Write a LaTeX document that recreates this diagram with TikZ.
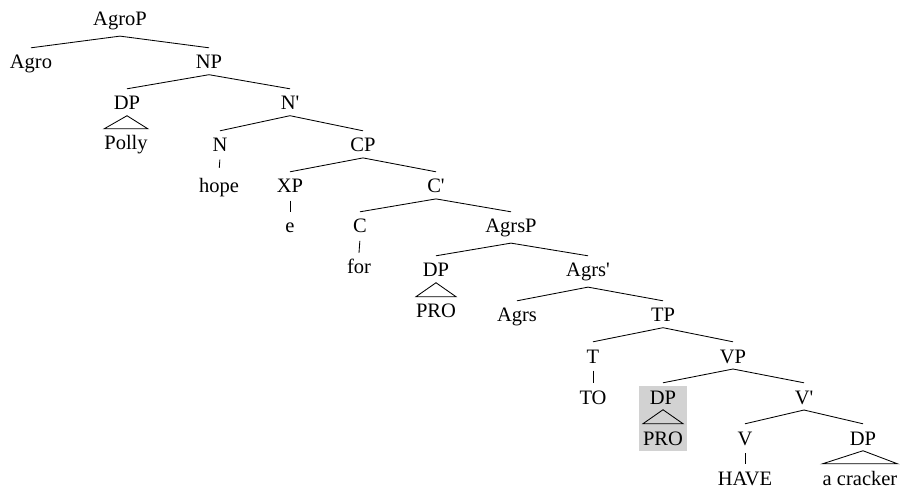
\documentclass[tikz,border=0pt]{standalone}
\usepackage{fontspec}
\setmainfont{Liberation Serif}
\usetikzlibrary{calc,backgrounds}
\newcommand{\pr}{\textquotesingle}
\begin{document}
\begin{tikzpicture}[x=1pt,y=-1pt,
  lbl/.style={anchor=base, font=\fontsize{20.5}{24}\selectfont, inner xsep=0pt, inner ysep=5.5pt, text height=15.5pt},
  edge/.style={draw=black, line width=0.85pt},
  unary/.style={edge, shorten <=2pt},
  tri/.style={draw=black, line width=0.85pt, line join=miter}]
\useasboundingbox (0,0) rectangle (903,489);
% nodes
\node[lbl] (agrop) at (120,26) {AgroP};
\node[lbl] (agro) at (31,69) {Agro};
\node[lbl] (np) at (209,69) {NP};
\node[lbl] (dp1) at (127,110) {DP};
\node[lbl] (nbar) at (290,110) {N\pr};
\node[lbl] (polly) at (126,150) {Polly};
\node[lbl] (n) at (220,152) {N};
\node[lbl] (cp) at (363,152) {CP};
\node[lbl] (hope) at (219,193) {hope};
\node[lbl] (xp) at (290,193) {XP};
\node[lbl] (cbar) at (436,193) {C\pr};
\node[lbl] (e) at (290,233) {e};
\node[lbl] (c) at (360,233) {C};
\node[lbl] (agrsp) at (511,233) {AgrsP};
\node[lbl] (forw) at (359,274) {for};
\node[lbl] (dp2) at (436,277) {DP};
\node[lbl] (agrsbar) at (588,277) {Agrs\pr};
\node[lbl] (pro2) at (436,318) {PRO};
\node[lbl] (agrs) at (517,322) {Agrs};
\node[lbl] (tp) at (663,322) {TP};
\node[lbl] (t) at (593,363) {T};
\node[lbl] (vp) at (733,363) {VP};
\node[lbl] (tow) at (593,404) {TO};
\node[lbl] (dp3) at (663,404) {DP};
\node[lbl] (vbar) at (804,404) {V\pr};
\node[lbl] (pro3) at (663,445) {PRO};
\node[lbl] (v) at (745,445) {V};
\node[lbl] (dp4) at (863,445) {DP};
\node[lbl] (have) at (745,485) {HAVE};
\node[lbl] (cracker) at (860,485) {a cracker};
% grey highlight
\begin{scope}[on background layer]
\fill[gray!35] ($(pro3.west |- dp3.north)+(-4pt,-3pt)$) rectangle ($(pro3.south east)+(4pt,0pt)$);
\end{scope}
% branches
\draw[edge] (agrop.south) -- (agro.north);
\draw[edge] (agrop.south) -- (np.north);
\draw[edge] (np.south) -- (dp1.north);
\draw[edge] (np.south) -- (nbar.north);
\draw[edge] (nbar.south) -- (n.north);
\draw[edge] (nbar.south) -- (cp.north);
\draw[edge] (cp.south) -- (xp.north);
\draw[edge] (cp.south) -- (cbar.north);
\draw[edge] (cbar.south) -- (c.north);
\draw[edge] (cbar.south) -- (agrsp.north);
\draw[edge] (agrsp.south) -- (dp2.north);
\draw[edge] (agrsp.south) -- (agrsbar.north);
\draw[edge] (agrsbar.south) -- (agrs.north);
\draw[edge] (agrsbar.south) -- (tp.north);
\draw[edge] (tp.south) -- (t.north);
\draw[edge] (tp.south) -- (vp.north);
\draw[edge] (vp.south) -- (dp3.north);
\draw[edge] (vp.south) -- (vbar.north);
\draw[edge] (vbar.south) -- (v.north);
\draw[edge] (vbar.south) -- (dp4.north);
% unary lines
\draw[unary, shorten >=4pt] (n.south) -- (hope.north);
\draw[unary] (xp.south) -- (e.north);
\draw[unary] (c.south) -- (forw.north);
\draw[unary] (t.south) -- (tow.north);
\draw[unary] (v.south) -- (have.north);
% triangles
\draw[tri] (dp1.south) -- (polly.north west) -- (polly.north east) -- cycle;
\draw[tri] (dp2.south) -- (pro2.north west) -- (pro2.north east) -- cycle;
\draw[tri] (dp3.south) -- (pro3.north west) -- (pro3.north east) -- cycle;
\draw[tri] (dp4.south) -- (cracker.north west) -- (cracker.north east) -- cycle;
\end{tikzpicture}
\end{document}
